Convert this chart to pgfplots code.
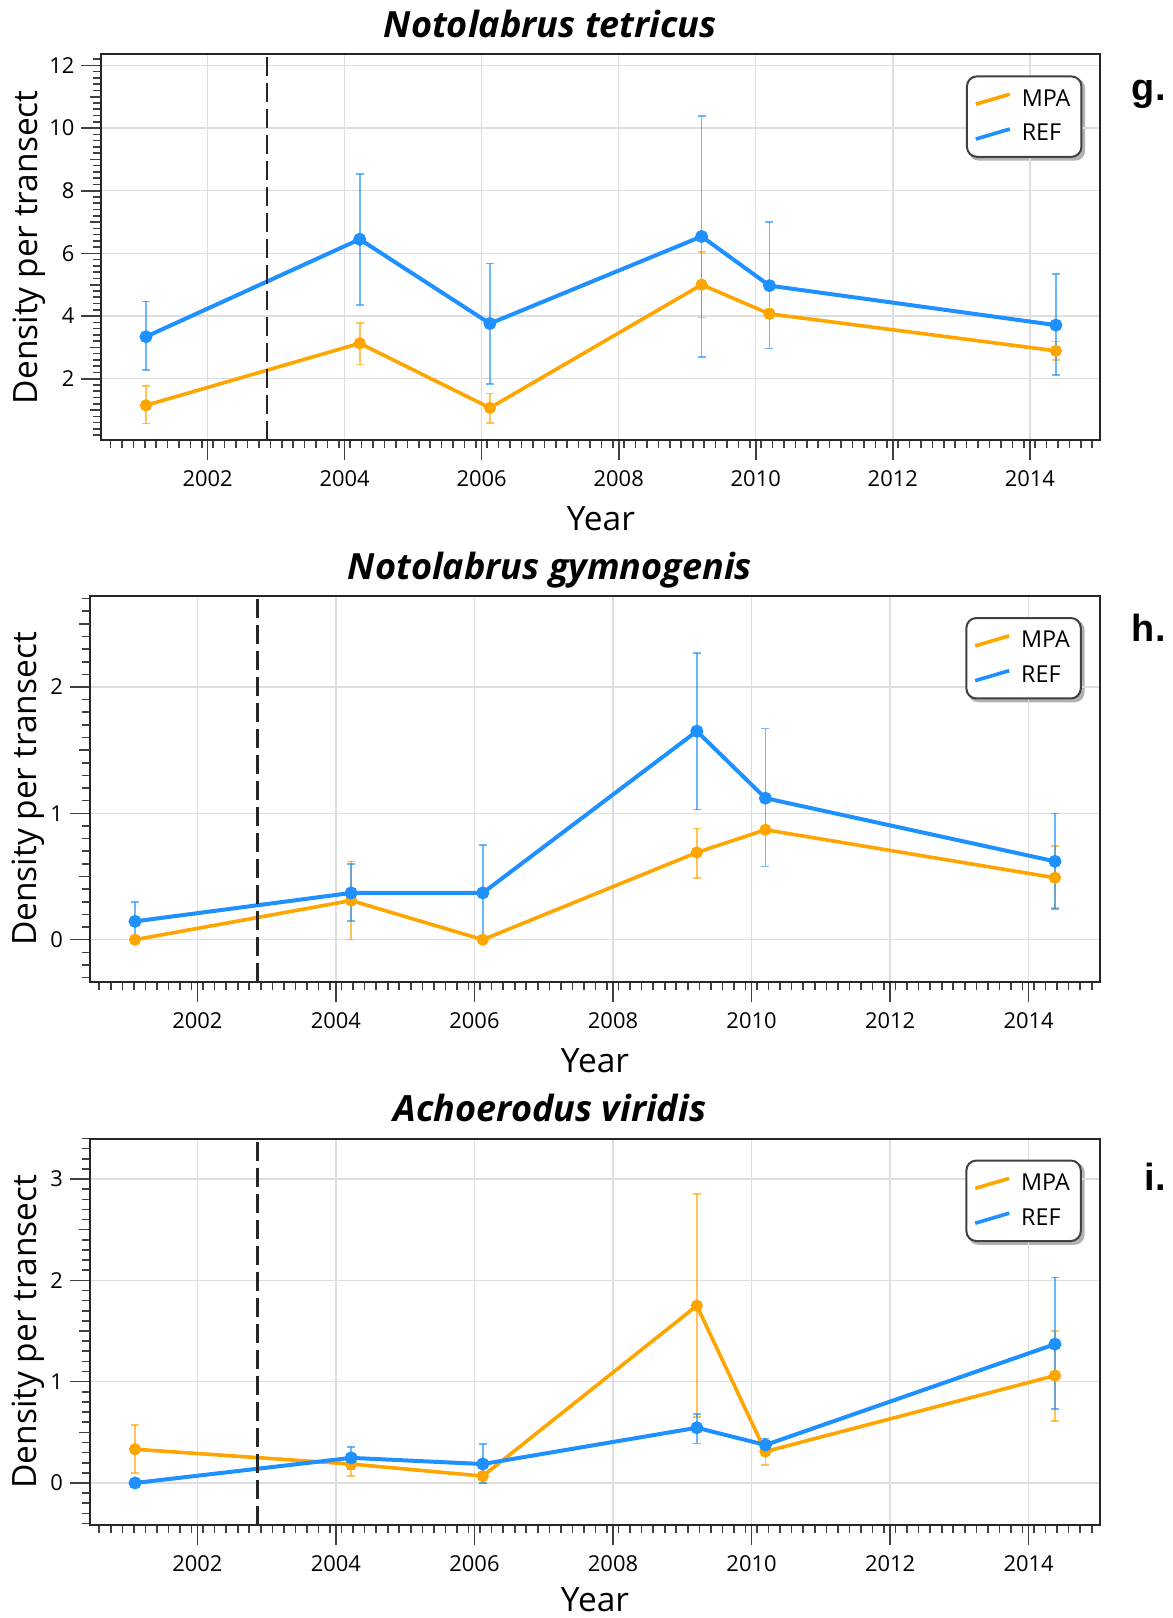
\documentclass[border=0pt]{standalone}
\usepackage{fontspec}
\setmainfont{Open Sans}
\newfontfamily\arialfont{Liberation Sans}
\usepackage{pgfplots}
\pgfplotsset{compat=1.18}
\definecolor{mpa}{RGB}{255,165,0}
\definecolor{refc}{RGB}{30,144,255}
\pgfdeclarelayer{behind}
\pgfsetlayers{behind,main}

\pgfplotsset{
  panel/.style={
    scale only axis,
    xmin=2000.45, xmax=2015.03,
    xtick={2002,2004,...,2014},
    minor xtick={2000.5833,2000.75,...,2015},
    tick align=outside,
    tick pos=left,
    major tick length=10bp,
    minor tick length=4bp,
    tick style={black!75, line width=0.8bp},
    grid=major,
    major grid style={black!13, line width=0.75bp},
    axis line style={black!85, line width=1bp},
    /pgf/number format/assume math mode=true,
    /pgf/number format/1000 sep={},
    ticklabel style={font=\fontsize{11}{13}\selectfont},
    xticklabel style={yshift=-2bp},
    label style={font=\fontsize{16.8}{20}\selectfont},
    xlabel={Year},
    ylabel={Density per transect},
    xlabel style={at={(axis description cs:0.5,-0.2047)}, anchor=center},
    every axis title/.style={at={(0.5,1)}, anchor=base,
      font=\fontsize{18.1}{21}\selectfont\bfseries\itshape},
    legend style={at={(0.982,0.9456)}, anchor=north east, draw=black!75, line width=1bp,
      rounded corners=5bp, fill=white,
      font=\fontsize{11.7}{14}\selectfont, row sep=3.6bp, inner xsep=3.5bp, inner ysep=4.5bp},
    legend cell align=left,
    legend image code/.code={\draw[#1, line width=1.8bp] (0bp,-2.5bp) -- (17bp,2.5bp);
      \path (20bp,0bp);},
    extra y tick style={grid=none, major tick length=5.5bp},
    extra y tick labels={},
  },
  mpaplot/.style={color=mpa, line width=1.8bp, mark=*, mark size=2.1bp,
    mark options={solid, fill=mpa, draw=mpa},
    error bars/.cd, y dir=both, y explicit,
    error bar style={mpa, opacity=0.65, line width=0.8bp},
    error mark options={rotate=90, mark size=2bp, mpa, opacity=0.65, line width=0.8bp}},
  refplot/.style={color=refc, line width=2bp, mark=*, mark size=2.2bp,
    mark options={solid, fill=refc, draw=refc},
    error bars/.cd, y dir=both, y explicit,
    error bar style={refc, opacity=0.65, line width=0.8bp},
    error mark options={rotate=90, mark size=2bp, refc, opacity=0.65, line width=0.8bp}},
}
\newcommand\legshadow[1]{%
  \begin{pgfonlayer}{behind}
    \fill[black, opacity=0.3, rounded corners=5bp]
      ([shift={(1.4bp,-1.4bp)}]#1.south west) rectangle ([shift={(1.4bp,-1.4bp)}]#1.north east);
  \end{pgfonlayer}}

\begin{document}
\begin{tikzpicture}
\useasboundingbox (0,0) rectangle (586.5bp,-809bp);

% ---------- g ----------
\begin{axis}[panel,
  at={(50.7bp,-27.2bp)}, anchor=north west, width=499.5bp, height=192.8bp,
  ymin=0.044, ymax=12.35,
  ytick={2,4,...,12},
  minor ytick={0.2,0.4,...,12.2},
  extra y ticks={1,3,5,7,9,11},
  ylabel style={at={(axis description cs:-0.0726,0.5)}, anchor=center},
  title={Notolabrus tetricus},
  title style={at={(axis description cs:0.4494,1.044)}},
  legend style={name=legg},
]
\addplot+[mpaplot] coordinates {
 (2001.1,1.15) += (0,0.61) -= (0,0.58)
 (2004.22,3.13) += (0,0.65) -= (0,0.67)
 (2006.12,1.07) += (0,0.46) -= (0,0.48)
 (2009.21,5.00) += (0,1.04) -= (0,1.04)
 (2010.2,4.07) += (0,0.15) -= (0,0.15)
 (2014.38,2.89) += (0,0.3) -= (0,0.3)
};
\addlegendentry{MPA}
\addplot+[refplot] coordinates {
 (2001.1,3.34) += (0,1.13) -= (0,1.07)
 (2004.22,6.45) += (0,2.09) -= (0,2.09)
 (2006.12,3.76) += (0,1.92) -= (0,1.92)
 (2009.21,6.54) += (0,3.84) -= (0,3.85)
 (2010.2,4.97) += (0,2.03) -= (0,2.00)
 (2014.38,3.71) += (0,1.64) -= (0,1.60)
};
\addlegendentry{REF}
\draw[black!85, line width=1.2bp, dash pattern=on 9.5bp off 3.5bp]
  (axis cs:2002.87,0.044) -- (axis cs:2002.87,12.35);
\end{axis}
\legshadow{legg}

% ---------- h ----------
\begin{axis}[panel,
  at={(45bp,-298bp)}, anchor=north west, width=505bp, height=193bp,
  ymin=-0.335, ymax=2.72,
  ytick={0,1,2},
  minor ytick={-0.3,-0.2,...,2.7},
  extra y ticks={0.5,1.5,2.5},
  ylabel style={at={(axis description cs:-0.0609,0.5)}, anchor=center},
  title={Notolabrus gymnogenis},
  title style={at={(axis description cs:0.4554,1.044)}},
  legend style={name=legh},
]
\addplot+[mpaplot] coordinates {
 (2001.1,0) += (0,0) -= (0,0)
 (2004.22,0.31) += (0,0.31) -= (0,0.31)
 (2006.12,0) += (0,0) -= (0,0)
 (2009.21,0.69) += (0,0.19) -= (0,0.20)
 (2010.2,0.87) += (0,0) -= (0,0)
 (2014.38,0.49) += (0,0.25) -= (0,0.24)
};
\addlegendentry{MPA}
\addplot+[refplot] coordinates {
 (2001.1,0.145) += (0,0.155) -= (0,0.145)
 (2004.22,0.37) += (0,0.23) -= (0,0.22)
 (2006.12,0.37) += (0,0.38) -= (0,0.37)
 (2009.21,1.65) += (0,0.62) -= (0,0.62)
 (2010.2,1.12) += (0,0.55) -= (0,0.54)
 (2014.38,0.62) += (0,0.38) -= (0,0.375)
};
\addlegendentry{REF}
\draw[black!85, line width=1.2bp, dash pattern=on 9.5bp off 3.5bp]
  (axis cs:2002.87,-0.335) -- (axis cs:2002.87,2.72);
\end{axis}
\legshadow{legh}

% ---------- i ----------
\begin{axis}[panel,
  at={(45bp,-569.25bp)}, anchor=north west, width=505bp, height=193.25bp,
  ymin=-0.415, ymax=3.40,
  ytick={0,1,2,3},
  minor ytick={-0.4,-0.3,...,3.4},
  extra y ticks={0.5,1.5,2.5},
  ylabel style={at={(axis description cs:-0.0609,0.5)}, anchor=center},
  xlabel style={at={(axis description cs:0.5,-0.193)}},
  title={Achoerodus viridis},
  title style={at={(axis description cs:0.4554,1.044)}},
  legend style={name=legi},
]
\addplot+[mpaplot] coordinates {
 (2001.1,0.333) += (0,0.237) -= (0,0.233)
 (2004.22,0.187) += (0,0.09) -= (0,0.12)
 (2006.12,0.068) += (0,0.1) -= (0,0.068)
 (2009.21,1.75) += (0,1.10) -= (0,1.10)
 (2010.2,0.31) += (0,0.09) -= (0,0.13)
 (2014.38,1.06) += (0,0.44) -= (0,0.45)
};
\addlegendentry{MPA}
\addplot+[refplot] coordinates {
 (2001.1,0) += (0,0) -= (0,0)
 (2004.22,0.248) += (0,0.11) -= (0,0.11)
 (2006.12,0.187) += (0,0.2) -= (0,0.187)
 (2009.21,0.545) += (0,0.135) -= (0,0.155)
 (2010.2,0.375) += (0,0.065) -= (0,0.055)
 (2014.38,1.37) += (0,0.66) -= (0,0.64)
};
\addlegendentry{REF}
\draw[black!85, line width=1.2bp, dash pattern=on 9.5bp off 3.5bp]
  (axis cs:2002.87,-0.415) -- (axis cs:2002.87,3.40);
\end{axis}
\legshadow{legi}

\node[anchor=base east, inner sep=0pt, font=\arialfont\bfseries\fontsize{19}{22}\selectfont] at (583bp,-50bp) {g.};
\node[anchor=base east, inner sep=0pt, font=\arialfont\bfseries\fontsize{19}{22}\selectfont] at (583bp,-320.8bp) {h.};
\node[anchor=base east, inner sep=0pt, font=\arialfont\bfseries\fontsize{19}{22}\selectfont] at (583bp,-595bp) {i.};
\end{tikzpicture}
\end{document}
